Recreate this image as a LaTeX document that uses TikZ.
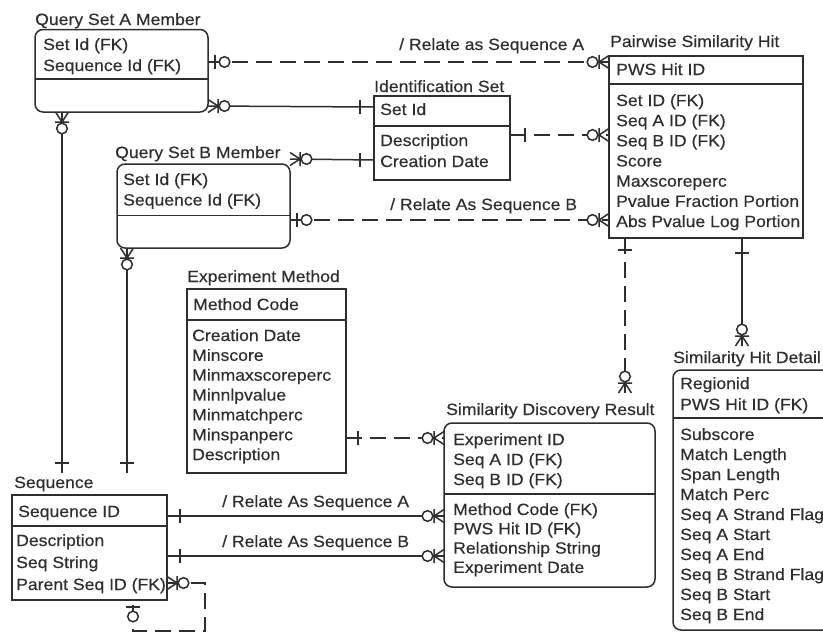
\documentclass[tikz,border=0pt]{standalone}
\usepackage{fontspec}
\setmainfont{Liberation Sans}[FakeStretch=1.08,FakeBold=0.35]
\definecolor{inkc}{HTML}{2E2E2E}

% entity box: name, style, x1, y1, x2, y2, divider y (y measured downwards)
\newcommand\entity[7]{%
  \node[#2, minimum width={#5-#3}, minimum height={#6-#4}] (#1) at (#3,-#4) {};
  \draw[ink] (#3,-#7) -- (#5,-#7);}
% column of text lines: prefix, x, first baseline, step, items
\newcommand\lines[5]{%
  \foreach \s [count=\i] in {#5}
    \node[txt] (#1-\i) at (#2,{-(#3+(\i-1)*#4)}) {\s};}
% relationship ends, drawn at a port with the outward direction given as an angle
\newcommand\mone[3]{% single bar at distance #3
  \begin{scope}[shift={#1},rotate=#2]
    \draw[ink] (#3,-7) -- (#3,7);
  \end{scope}}
\newcommand\mmany[2]{% crow's foot, bar, open circle
  \begin{scope}[shift={#1},rotate=#2]
    \draw[ink] (0,6.5) -- (10,0) -- (0,-6.5) (10,-7) -- (10,7);
    \draw[ink,fill=white] (16.5,0) circle (5.3);
  \end{scope}}
\newcommand\mopt[2]{% bar, open circle
  \begin{scope}[shift={#1},rotate=#2]
    \draw[ink] (7,-7) -- (7,7);
    \draw[ink,fill=white] (16.5,0) circle (5.3);
  \end{scope}}

\begin{document}
\begin{tikzpicture}[x=1pt,y=1pt,
  ink/.style={draw=inkc, line width=1.5pt},
  ebox/.style={ink, inner sep=0pt, outer sep=0pt, anchor=north west},
  rbox/.style={ebox, rounded corners=8pt},
  txt/.style={inner sep=0pt, anchor=base west, text=inkc,
              font=\fontsize{16.3}{20}\selectfont},
  rel/.style={ink},
  drel/.style={ink, dash pattern=on 16pt off 8pt}]

\fill[white] (0,0) rectangle (823,-632);
\useasboundingbox (0,0) rectangle (823,-632);
\clip (0,0) rectangle (823,-632);

% ---------- entities ----------
\entity{qsa}{rbox}{35}{29.5}{208}{112}{79}
\node[txt] (qsa-t) at (35,-25) {Query Set A Member};
\lines{qsa-k}{43}{50}{21}{Set Id (FK),Sequence Id (FK)}

\entity{qsb}{rbox}{117}{164}{290}{248}{215.5}
\node[txt] (qsb-t) at (115,-158) {Query Set B Member};
\lines{qsb-k}{123}{185}{20.5}{Set Id (FK),Sequence Id (FK)}

\entity{ids}{ebox}{374}{96}{510}{180}{126}
\node[txt] (ids-t) at (374,-92) {Identification Set};
\lines{ids-k}{380}{115}{20}{Set Id}
\lines{ids-v}{380}{146}{21}{Description,Creation Date}

\entity{psh}{ebox}{609}{56}{803}{238}{84}
\node[txt] (psh-t) at (610,-47) {Pairwise Similarity Hit};
\lines{psh-k}{616}{75}{20}{PWS Hit ID}
\lines{psh-v}{616}{106}{20.17}{Set ID (FK),Seq A ID (FK),Seq B ID (FK),Score,Maxscoreperc,Pvalue Fraction Portion,Abs Pvalue Log Portion}

\entity{em}{ebox}{187}{289}{346}{473}{320}
\node[txt] (em-t) at (187,-282) {Experiment Method};
\lines{em-k}{193}{310}{20}{Method Code}
\lines{em-v}{192}{341}{19.85}{Creation Date,Minscore,Minmaxscoreperc,Minnlpvalue,Minmatchperc,Minspanperc,Description}

\entity{seq}{ebox}{12}{495}{167}{600}{526}
\node[txt] (seq-t) at (14,-488) {Sequence};
\lines{seq-k}{18}{517}{20}{Sequence ID}
\lines{seq-v}{16}{546}{22}{Description,Seq String,Parent Seq ID (FK)}

\entity{sdr}{rbox}{444}{423}{655}{587}{494}
\node[txt] (sdr-t) at (446,-415) {Similarity Discovery Result};
\lines{sdr-k}{453}{445}{20}{Experiment ID,Seq A ID (FK),Seq B ID (FK)}
\lines{sdr-v}{453}{515}{19.3}{Method Code (FK),PWS Hit ID (FK),Relationship String,Experiment Date}

\entity{shd}{rbox}{673}{370}{845}{630}{418}
\node[txt] (shd-t) at (673,-363) {Similarity Hit Detail};
\lines{shd-k}{680}{389}{21}{Regionid,PWS Hit ID (FK)}
\lines{shd-v}{680}{440}{20}{Subscore,Match Length,Span Length,Match Perc,Seq A Strand Flag,Seq A Start,Seq A End,Seq B Strand Flag,Seq B Start,Seq B End}

% ---------- connection ports ----------
\coordinate (qsa-a) at ([yshift=-32.5pt]qsa.north east);
\coordinate (qsa-b) at ([yshift=-76.5pt]qsa.north east);
\coordinate (qsa-c) at ([xshift=27pt]qsa.south west);
\coordinate (qsb-a) at ([yshift=5pt]qsb.north east);
\coordinate (qsb-b) at ([yshift=-56pt]qsb.north east);
\coordinate (qsb-c) at ([xshift=10pt]qsb.south west);
\coordinate (ids-a) at ([yshift=-11pt]ids.north west);
\coordinate (ids-b) at ([yshift=-64pt]ids.north west);
\coordinate (ids-c) at ([yshift=-39pt]ids.north east);
\coordinate (psh-a) at ([yshift=-6pt]psh.north west);
\coordinate (psh-b) at ([yshift=-79pt]psh.north west);
\coordinate (psh-c) at ([yshift=-164pt]psh.north west);
\coordinate (psh-d) at ([xshift=16pt]psh.south west);
\coordinate (psh-e) at ([xshift=133pt]psh.south west);
\coordinate (em-a)  at ([yshift=-149pt]em.north east);
\coordinate (sdr-a) at ([yshift=-15pt]sdr.north west);
\coordinate (sdr-b) at ([yshift=-93pt]sdr.north west);
\coordinate (sdr-c) at ([yshift=-133pt]sdr.north west);
\coordinate (sdr-top) at ([shift={(181pt,30pt)}]sdr.north west);
\coordinate (shd-top) at ([shift={(69pt,24pt)}]shd.north west);
\coordinate (seq-a) at ([yshift=-21pt]seq.north east);
\coordinate (seq-b) at ([yshift=-61pt]seq.north east);
\coordinate (seq-c) at ([yshift=-88pt]seq.north east);
\coordinate (seq-d) at ([xshift=121pt]seq.south west);
\coordinate (seq-t1) at ([shift={(50pt,22pt)}]seq.north west);
\coordinate (seq-t2) at ([shift={(115pt,22pt)}]seq.north west);

% ---------- relationships ----------
\draw[drel] (qsa-a) -- (psh-a);
\draw[rel]  (qsa-b) -- (ids-a);
\draw[rel]  (qsb-a) -- (ids-b);
\draw[drel] (ids-c) -- (psh-b);
\draw[drel] (qsb-b) -- (psh-c);
\draw[drel] (psh-d) -- (sdr-top);
\draw[rel]  (psh-e) -- (shd-top);
\draw[rel]  (qsa-c) -- (seq-t1);
\draw[rel]  (qsb-c) -- (seq-t2);
\draw[drel] (em-a) -- (sdr-a);
\draw[rel]  (seq-a) -- (sdr-b);
\draw[rel]  (seq-b) -- (sdr-c);
\draw[drel] (seq-c) -- ++(38,0) |- ([yshift=-31pt]seq-d) -- (seq-d);

\node[txt] (lab-1) at (399,-50)  {/ Relate as Sequence A};
\node[txt] (lab-2) at (390,-210) {/ Relate As Sequence B};
\node[txt] (lab-3) at (222,-507) {/ Relate As Sequence A};
\node[txt] (lab-4) at (222,-547) {/ Relate As Sequence B};

% ---------- cardinality ends ----------
\mopt{(qsa-a)}{0}      \mmany{(psh-a)}{180}
\mmany{(qsa-b)}{0}     \mone{(ids-a)}{180}{14}
\mmany{(qsb-a)}{0}     \mone{(ids-b)}{180}{14}
\mone{(ids-c)}{0}{15}  \mmany{(psh-b)}{180}
\mopt{(qsb-b)}{0}      \mmany{(psh-c)}{180}
\mone{(psh-d)}{-90}{12} \mmany{(sdr-top)}{90}
\mone{(psh-e)}{-90}{15} \mmany{(shd-top)}{90}
\mmany{(qsa-c)}{-90}   \mone{(seq-t1)}{90}{10}
\mmany{(qsb-c)}{-90}   \mone{(seq-t2)}{90}{10}
\mone{(em-a)}{0}{12}   \mmany{(sdr-a)}{180}
\mone{(seq-a)}{0}{13}  \mmany{(sdr-b)}{180}
\mone{(seq-b)}{0}{13}  \mmany{(sdr-c)}{180}
\mmany{(seq-c)}{0}     \mopt{(seq-d)}{-90}
\end{tikzpicture}
\end{document}
